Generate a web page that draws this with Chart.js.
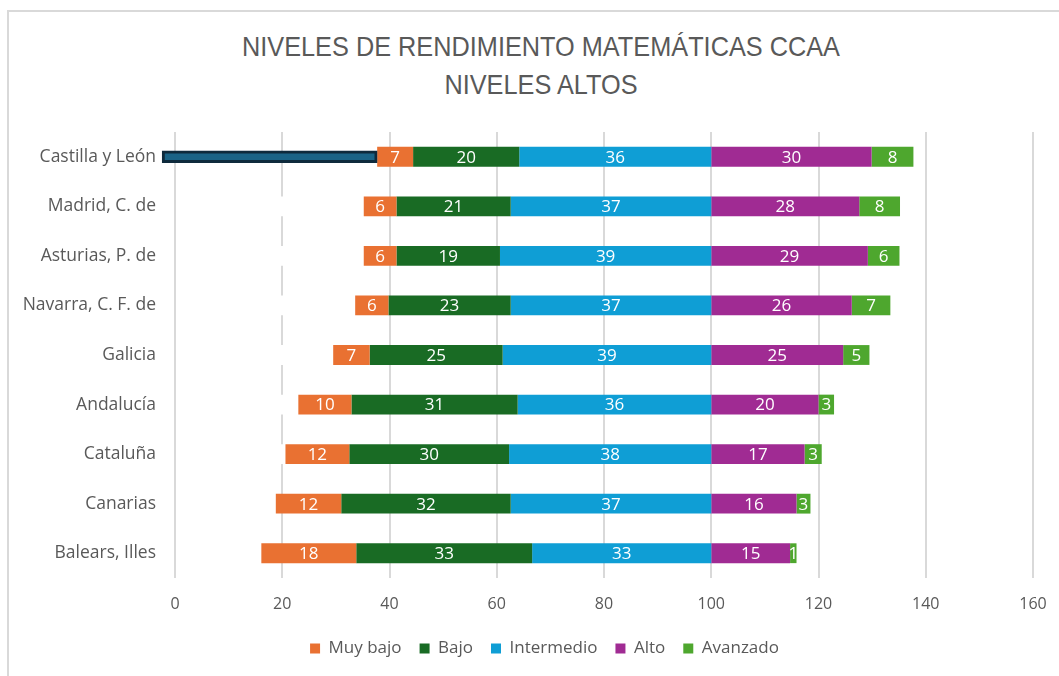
<!DOCTYPE html>
<html><head><meta charset="utf-8">
<script src="https://cdn.jsdelivr.net/npm/chart.js@4.4.1/dist/chart.umd.min.js"></script>
<style>
html,body{margin:0;padding:0;background:#fff;overflow:hidden;width:1059px;height:676px;position:relative}
#frame{position:absolute;left:7px;top:10px;width:2000px;height:2000px;border-left:2px solid #d9d9d9;border-top:2px solid #d9d9d9;box-sizing:border-box}
#c{position:absolute;left:0;top:0}
.t{position:absolute;left:0;width:1082px;text-align:center;color:#595959;font-family:"Liberation Sans",Arial,sans-serif;font-size:28px;line-height:34px;white-space:nowrap;transform-origin:50% 50%}
</style></head>
<body>
<div id="frame"></div>
<div class="t" id="t1" style="top:30px">NIVELES DE RENDIMIENTO MATEMÁTICAS CCAA</div>
<div class="t" id="t2" style="top:68px">NIVELES ALTOS</div>
<canvas id="c" width="1059" height="676"></canvas>
<script>
const categories = ['Castilla y León','Madrid, C. de','Asturias, P. de','Navarra, C. F. de','Galicia','Andalucía','Cataluña','Canarias','Balears, Illes'];
const muyBajo    = [6.7, 6.1, 6.1, 6.2, 6.8, 9.9, 11.9, 12.2, 17.7];
const bajo       = [19.8, 21.3, 19.3, 22.8, 24.8, 31.0, 29.8, 31.6, 32.8];
const intermedio = [35.8, 37.4, 39.4, 37.4, 38.9, 36.1, 37.7, 37.4, 33.4];
const alto       = [29.9, 27.6, 29.2, 26.2, 24.6, 20.0, 17.4, 15.9, 14.7];
const avanzado   = [7.8, 7.6, 5.9, 7.2, 4.9, 2.9, 3.2, 2.6, 1.2];
const seriesNames = ['Muy bajo','Bajo','Intermedio','Alto','Avanzado'];
const xTicks = [0, 20, 40, 60, 80, 100, 120, 140, 160];
const highlightRow = 0;
const highlightStart = -2.4;

const seriesColors = ['#E97132','#196B24','#0F9ED5','#A02B93','#4EA72E'];
const series = [muyBajo, bajo, intermedio, alto, avanzado];
const offsets = categories.map((_, i) => 100 - muyBajo[i] - bajo[i] - intermedio[i]);

// fit title width
(function(){
  const cv = document.createElement('canvas').getContext('2d');
  cv.font = '28px "Liberation Sans"';
  const w = cv.measureText(document.getElementById('t1').textContent).width;
  const s = 598 / w;
  document.getElementById('t1').style.transform = 'scaleX(' + s + ')';
  document.getElementById('t2').style.transform = 'scaleX(' + s + ')';
})();

const segDatasets = series.map((vals, k) => ({
  label: seriesNames[k],
  seriesIndex: k,
  data: vals.map((v, i) => {
    let s = offsets[i];
    for (let j = 0; j < k; j++) s += series[j][i];
    return [s, s + v];
  }),
  backgroundColor: seriesColors[k],
  borderWidth: 0,
  order: 2,
  barPercentage: 0.4,
  categoryPercentage: 1
}));

const offsetDs = {
  label: 'offset',
  isOffset: true,
  data: offsets.map((o, i) => i === highlightRow ? null : [0, o]),
  backgroundColor: '#ffffff',
  borderWidth: 0,
  order: 3,
  barPercentage: 0.4,
  categoryPercentage: 1
};
const highlightDs = {
  label: 'highlight',
  data: offsets.map((o, i) => i === highlightRow ? [highlightStart, o] : null),
  backgroundColor: '#1A6386',
  borderColor: '#0E2A3C',
  borderWidth: 3,
  borderSkipped: false,
  barThickness: 12,
  clip: false,
  order: 1
};

const labelPlugin = {
  id: 'segLabels',
  afterLayout(chart) {
    // centre the legend like the original (offset by the category-label column)
    chart.legend.left = 56;
  },
  afterDatasetDraw(chart, args) {
    const ds = chart.data.datasets[args.index];
    const ctx = chart.ctx;
    if (ds.isOffset) {
      const x = chart.scales.x.getPixelForValue(0);
      ctx.save();
      ctx.strokeStyle = '#d9d9d9';
      ctx.lineWidth = 2;
      ctx.beginPath();
      ctx.moveTo(x, chart.chartArea.top);
      ctx.lineTo(x, chart.chartArea.bottom);
      ctx.stroke();
      ctx.restore();
    }
  },
  afterDatasetsDraw(chart) {
    const ctx = chart.ctx;
    ctx.save();
    ctx.font = '17px "Open Sans"';
    ctx.fillStyle = '#ffffff';
    ctx.textAlign = 'center';
    ctx.textBaseline = 'middle';
    chart.data.datasets.forEach((ds, di) => {
      if (ds.seriesIndex === undefined) return;
      const meta = chart.getDatasetMeta(di);
      meta.data.forEach((el, i) => {
        const v = series[ds.seriesIndex][i];
        ctx.fillText(String(Math.round(v)), (el.x + el.base) / 2, el.y + 1);
      });
    });
    ctx.restore();
  }
};

Chart.defaults.font.family = "'Open Sans', sans-serif";
new Chart(document.getElementById('c'), {
  type: 'bar',
  data: { labels: categories, datasets: [offsetDs, highlightDs, ...segDatasets] },
  options: {
    indexAxis: 'y',
    responsive: false,
    animation: false,
    devicePixelRatio: 1,
    layout: { padding: { top: 132, right: 26, bottom: 9, left: 0 } },
    plugins: {
      title: { display: false },
      tooltip: { enabled: false },
      legend: {
        position: 'bottom',
        labels: {
          boxWidth: 10, boxHeight: 10, color: '#595959',
          font: { size: 17 }, padding: 18,
          filter: (item, data) => data.datasets[item.datasetIndex].seriesIndex !== undefined
        }
      }
    },
    scales: {
      x: {
        min: xTicks[0], max: xTicks[xTicks.length - 1],
        afterBuildTicks: s => { s.ticks = xTicks.map(v => ({ value: v })); },
        afterFit: s => { s.height = 44; s.paddingLeft = 0; s.paddingRight = 0; },
        grid: { color: '#d9d9d9', lineWidth: 2, drawTicks: false },
        border: { display: false },
        ticks: { color: '#595959', font: { size: 16 }, padding: 17 }
      },
      y: {
        stacked: true,
        afterFit: s => { s.width = 175; },
        grid: { display: false, drawTicks: false },
        border: { display: false },
        ticks: { color: '#595959', font: { size: 17.5 }, padding: 19 }
      }
    }
  },
  plugins: [labelPlugin]
});
</script>
</body></html>
